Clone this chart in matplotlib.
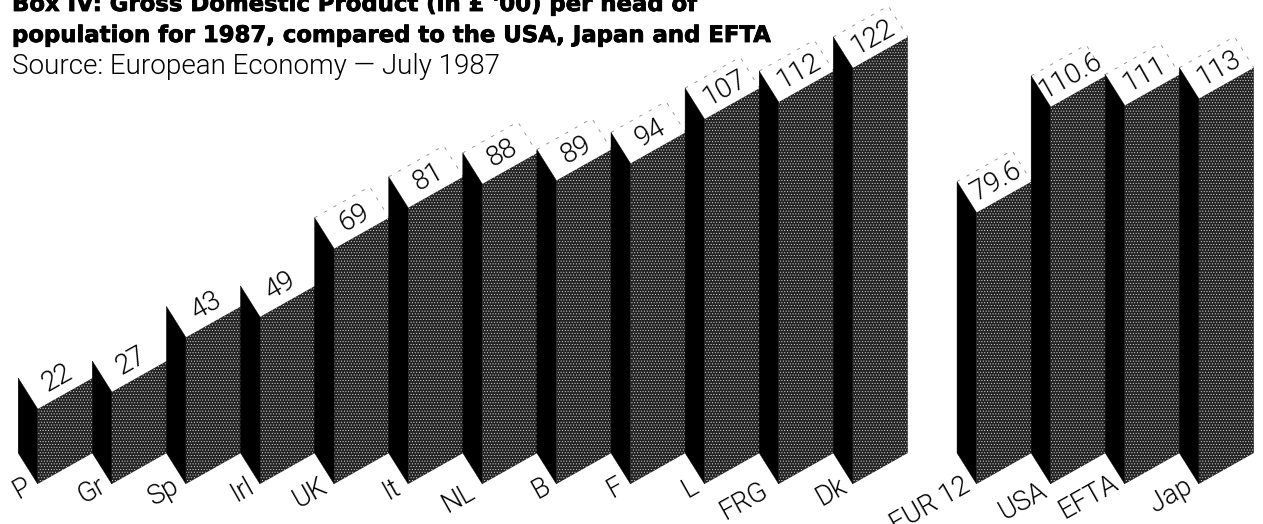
import numpy as np
import matplotlib
matplotlib.use('Agg')
import matplotlib.pyplot as plt
import matplotlib.patheffects as pe
from matplotlib.patches import Polygon

countries = ['P', 'Gr', 'Sp', 'Irl', 'UK', 'It', 'NL', 'B', 'F', 'L', 'FRG', 'Dk']
country_vals = [22, 27, 43, 49, 69, 81, 88, 89, 94, 107, 112, 122]
others = ['EUR 12', 'USA', 'EFTA', 'Jap']
other_vals = [79.6, 110.6, 111, 113]
value_text = ['22', '27', '43', '49', '69', '81', '88', '89', '94', '107', '112', '122',
	'79.6', '110.6', '111', '113']

W, H = 1263, 524
PX_SLOT = 74.1    # pixels per bar slot
PX_VAL = 3.41     # pixels per value unit
X0, Y0 = 37.7, 484.0

front_w = 55.0 / PX_SLOT
side_w = 19.5 / PX_SLOT
rise = 31.0 / PX_VAL
angle = 29.4
gap = 0.67        # spare room between the EU group and the rest

# a few bar names sit off the usual spot, offsets in points
name_nudge = {'NL': (-1, -4), 'FRG': (-3, -3), 'USA': (2, -3), 'It': (-1, -1), 'EFTA': (0, 2)}

plt.rcParams['hatch.linewidth'] = 0.4

fig = plt.figure(figsize=(W / 100, H / 100), dpi=100, facecolor='white')
ax = fig.add_axes([0, 0, 1, 1])
ax.set_xlim(-X0 / PX_SLOT, (W - X0) / PX_SLOT)
ax.set_ylim((Y0 - H) / PX_VAL, Y0 / PX_VAL)
ax.axis('off')

names = countries + others
vals = country_vals + other_vals
slots = list(range(len(countries))) + [len(countries) + gap + i for i in range(len(others))]


def draw_bar(s, v, txt, name):
	side = [(s - side_w, rise), (s, 0), (s, v), (s - side_w, v + rise)]
	front = [(s, 0), (s + front_w, rise), (s + front_w, v + rise), (s, v)]
	ax.add_patch(Polygon(side, closed=True, fc='black', ec='black', lw=0.3, zorder=3))
	ax.add_patch(Polygon(front, closed=True, fc='#222222', ec='#dcdcdc', lw=0, hatch='.' * 6, zorder=2))

	# dashes on the back edges of the top face only show on the taller bars
	if v >= 69:
		bx = [s - side_w, s + front_w - side_w, s + front_w]
		by = [v + rise, v + 2 * rise, v + rise]
		ax.plot(bx, by, color='#8a8a8a', lw=0.6, ls=(0, (4, 9)), zorder=1)

	ax.text(s + (front_w - side_w) / 2 + 0.03, v + rise, txt, rotation=angle, rotation_mode='anchor',
		ha='center', va='center', fontsize=20, family='Roboto', weight=300, color='black', zorder=4)
	dx, dy = name_nudge.get(name, (0, 0))
	ax.annotate(name, xy=(s, 0), xytext=(-6 + dx, dy), textcoords='offset points', rotation=angle,
		rotation_mode='anchor', ha='right', va='center', fontsize=19.5, family='Roboto', weight=300,
		color='black', zorder=4)


for s, v, txt, name in zip(slots, vals, value_text, names):
	draw_bar(s, v, txt, name)

title_font = dict(family='DejaVu Sans', weight='bold', fontsize=16.4, color='black', ha='left', va='baseline',
	path_effects=[pe.withStroke(linewidth=0.6, foreground='black')])
fig.text(12 / W, 1 - 11 / H, "Box IV: Gross Domestic Product (in £ '00) per head of", **title_font)
fig.text(12 / W, 1 - 42 / H, 'population for 1987, compared to the USA, Japan and EFTA', **title_font)
fig.text(12 / W, 1 - 74 / H, 'Source: European Economy — July 1987', family='Roboto', weight=300,
	fontsize=20, color='black', ha='left', va='baseline')

fig.savefig('out.png', dpi=100)
